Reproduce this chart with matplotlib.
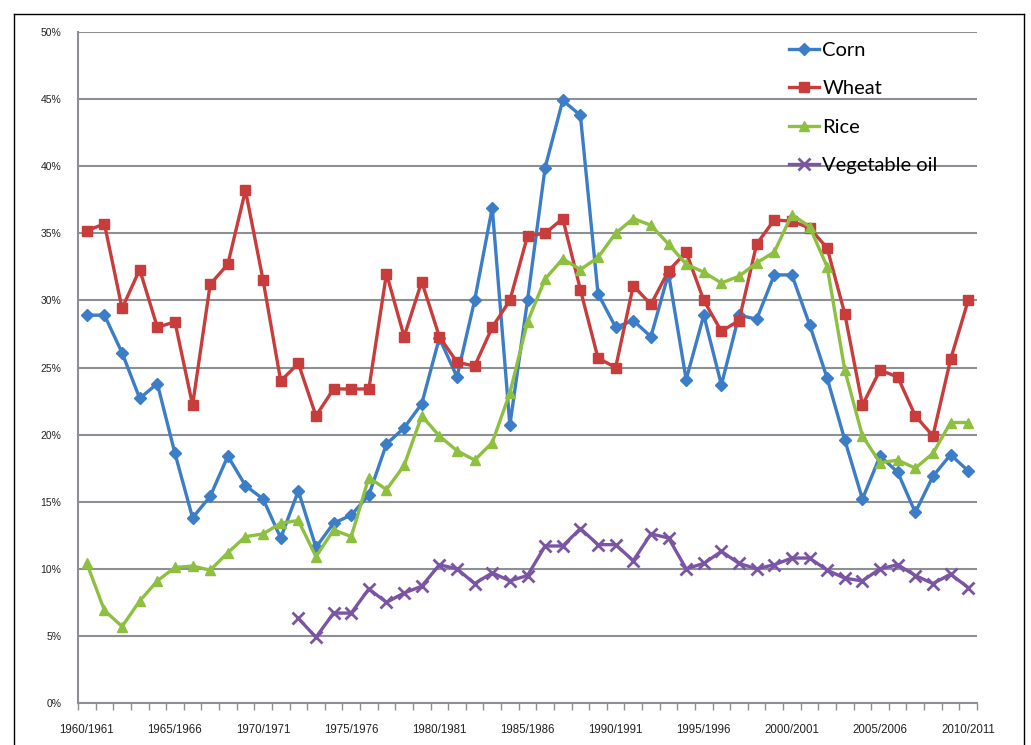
import numpy as np
import matplotlib
matplotlib.use("Agg")
import matplotlib.pyplot as plt
from matplotlib.lines import Line2D

# --- data (% stocks-to-use) ---
years = list(range(1960, 2011))
year_labels = [f"{y}/{y + 1}" for y in years]

corn = [28.9, 28.9, 26.1, 22.7, 23.8, 18.6, 13.8, 15.4, 18.4, 16.2,
        15.2, 12.3, 15.8, 11.6, 13.4, 14.0, 15.5, 19.3, 20.5, 22.3,
        27.2, 24.3, 30.0, 36.9, 20.7, 30.0, 39.9, 44.9, 43.8, 30.5,
        28.0, 28.5, 27.3, 32.0, 24.1, 28.9, 23.7, 28.9, 28.6, 31.9,
        31.9, 28.2, 24.2, 19.6, 15.2, 18.4, 17.2, 14.2, 16.9, 18.5,
        17.3]

wheat = [35.2, 35.7, 29.4, 32.3, 28.0, 28.4, 22.2, 31.2, 32.7, 38.2,
         31.5, 24.0, 25.3, 21.4, 23.4, 23.4, 23.4, 32.0, 27.3, 31.4,
         27.3, 25.4, 25.1, 28.0, 30.0, 34.8, 35.0, 36.1, 30.8, 25.7,
         25.0, 31.1, 29.7, 32.2, 33.6, 30.0, 27.7, 28.5, 34.2, 36.0,
         35.9, 35.4, 33.9, 29.0, 22.2, 24.8, 24.3, 21.4, 19.9, 25.6,
         30.0]

rice = [10.4, 6.9, 5.7, 7.6, 9.1, 10.1, 10.2, 9.9, 11.2, 12.4,
        12.6, 13.4, 13.6, 10.9, 12.9, 12.4, 16.8, 15.9, 17.7, 21.4,
        19.9, 18.8, 18.1, 19.4, 23.1, 28.4, 31.6, 33.1, 32.3, 33.2,
        35.0, 36.1, 35.6, 34.2, 32.7, 32.1, 31.3, 31.8, 32.8, 33.6,
        36.4, 35.5, 32.5, 24.8, 19.9, 17.9, 18.1, 17.5, 18.6, 20.9,
        20.9]

veg_oil = [np.nan] * 12 + [
    6.3, 4.9, 6.7, 6.7, 8.5, 7.5, 8.2, 8.7,
    10.3, 10.0, 8.9, 9.7, 9.1, 9.5, 11.7, 11.7, 13.0, 11.8,
    11.8, 10.6, 12.6, 12.3, 10.0, 10.4, 11.3, 10.4, 10.0, 10.3,
    10.8, 10.8, 9.9, 9.3, 9.1, 10.0, 10.3, 9.5, 8.9, 9.6,
    8.6]

series = [
    ("Corn", corn, "#3b7dc6", "D", 6.5),
    ("Wheat", wheat, "#c93c3c", "s", 7),
    ("Rice", rice, "#8dc040", "^", 7.5),
    ("Vegetable oil", veg_oil, "#7a55a3", "x", 8),
]

fig = plt.figure(figsize=(10.31, 7.45), dpi=100)
ax = fig.add_axes([78 / 1031, 1 - 703 / 745, 899 / 1031, 671 / 745])

x = np.arange(len(years))
for name, vals, color, marker, ms in series:
    ax.plot(x, vals, color=color, lw=2.4, marker=marker, markersize=ms,
            markeredgewidth=2 if marker == "x" else 1,
            markeredgecolor=color, label=name, zorder=3)

# axes look (Excel-ish)
ax.set_ylim(0, 50)
ax.set_xlim(-0.5, len(years) - 0.5)
ax.set_yticks(range(0, 51, 5))
ax.set_yticklabels([f"{v}%" for v in range(0, 51, 5)],
                   fontsize=7.5, family="Liberation Sans", color="#222222")
ax.yaxis.grid(True, color="#8c9094", lw=1.5, zorder=1)
ax.tick_params(axis="y", length=0, pad=12)

ax.set_xticks(np.arange(-0.5, len(years), 1.0))
ax.set_xticklabels([])
ax.set_xticks(x[::5], minor=True)
ax.set_xticklabels(year_labels[::5], minor=True,
                   fontsize=8.3, family="Liberation Sans", color="#222222")
ax.tick_params(axis="x", which="major", length=5, width=1, color="#8c9094",
               direction="out")
ax.tick_params(axis="x", which="minor", length=0, pad=15)

for side in ["top", "right"]:
    ax.spines[side].set_visible(False)
for side in ["left", "bottom"]:
    ax.spines[side].set_color("#8c9094")
    ax.spines[side].set_linewidth(1.5)

leg = ax.legend(loc="upper left", bbox_to_anchor=(779 / 1031, 1 - 32 / 745),
                bbox_transform=fig.transFigure, frameon=False,
                prop={"family": "Lato", "size": 14.5}, labelspacing=1.05,
                handlelength=1.5, handletextpad=0.15, borderpad=0)

# thin frame around the picture
frame = dict(color="black", lw=1.0, transform=fig.transFigure)
fig.add_artist(Line2D([14 / 1031, 1024 / 1031], [1 - 14 / 745, 1 - 14 / 745], **frame))
fig.add_artist(Line2D([14 / 1031, 14 / 1031], [0, 1 - 14 / 745], **frame))
fig.add_artist(Line2D([1024 / 1031, 1024 / 1031], [0, 1 - 14 / 745], **frame))

fig.savefig("out.png", dpi=100)
